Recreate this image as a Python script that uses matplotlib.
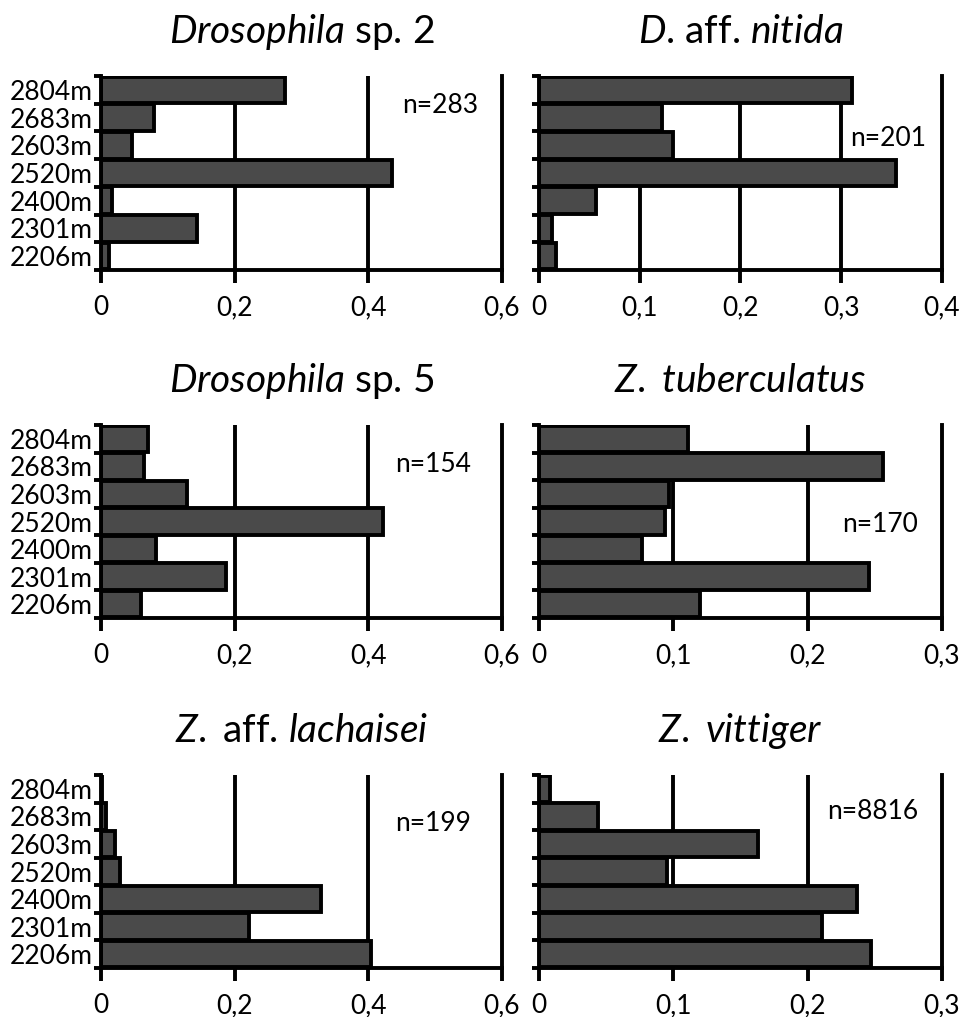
import matplotlib
matplotlib.use("Agg")
import matplotlib.pyplot as plt
import numpy as np

plt.rcParams['font.family'] = ['Lato', 'DejaVu Sans']
plt.rcParams['mathtext.fontset'] = 'custom'
plt.rcParams['mathtext.it'] = 'Lato:italic'
plt.rcParams['mathtext.rm'] = 'Lato'

# ---- data ----
altitudes = ["2206m", "2301m", "2400m", "2520m", "2603m", "2683m", "2804m"]  # bottom -> top

dros_sp2 = [0.012, 0.144, 0.017, 0.435, 0.046, 0.080, 0.276]
d_nitida = [0.017, 0.013, 0.057, 0.354, 0.133, 0.122, 0.311]
dros_sp5 = [0.060, 0.187, 0.083, 0.422, 0.129, 0.065, 0.071]
z_tuberc = [0.120, 0.246, 0.077, 0.094, 0.097, 0.256, 0.111]
z_lachai = [0.404, 0.222, 0.329, 0.028, 0.021, 0.007, 0.002]
z_vittig = [0.247, 0.211, 0.237, 0.095, 0.163, 0.044, 0.008]

titles = [r"$\mathit{Drosophila}$ sp. 2", r"$\mathit{D}$. aff. $\mathit{nitida}$",
          r"$\mathit{Drosophila}$ sp. 5", r"$\mathit{Z.}$ $\mathit{tuberculatus}$",
          r"$\mathit{Z.}$ aff. $\mathit{lachaisei}$", r"$\mathit{Z.}$ $\mathit{vittiger}$"]
n_labels = ["n=283", "n=201", "n=154", "n=170", "n=199", "n=8816"]
ticks_left = [0, 0.2, 0.4, 0.6]
ticklabels_left = ["0", "0,2", "0,4", "0,6"]
ticks_r1 = [0, 0.1, 0.2, 0.3, 0.4]
ticklabels_r1 = ["0", "0,1", "0,2", "0,3", "0,4"]
ticks_r23 = [0, 0.1, 0.2, 0.3]
ticklabels_r23 = ["0", "0,1", "0,2", "0,3"]

series = [dros_sp2, d_nitida, dros_sp5, z_tuberc, z_lachai, z_vittig]
tick_sets = [(ticks_left, ticklabels_left), (ticks_r1, ticklabels_r1),
             (ticks_left, ticklabels_left), (ticks_r23, ticklabels_r23),
             (ticks_left, ticklabels_left), (ticks_r23, ticklabels_r23)]
n_pos = [(0.845, 0.85), (0.866, 0.68), (0.828, 0.793),
         (0.846, 0.482), (0.828, 0.751), (0.829, 0.81)]

W, H = 962, 1017
fig = plt.figure(figsize=(W / 100, H / 100), dpi=100)

col_x = [(101, 502), (539, 942)]
row_y = [(76, 270), (425, 618), (775, 968)]

lw = 2.8
fs = 19
for i, vals in enumerate(series):
    r, c = divmod(i, 2)
    x0, x1 = col_x[c]
    yt, yb = row_y[r]
    ax = fig.add_axes([x0 / W, 1 - yb / H, (x1 - x0) / W, (yb - yt) / H])
    ypos = np.arange(len(altitudes))
    ax.barh(ypos, vals, height=0.96, color="#4a4a4a", edgecolor="black",
            linewidth=lw, zorder=2)
    ticks, tlabels = tick_sets[i]
    ax.set_xlim(0, ticks[-1])
    ax.set_ylim(-0.5, len(altitudes) - 0.5)
    ax.set_xticks(ticks)
    ax.set_xticklabels(tlabels, fontsize=fs)
    for t in ticks[1:-1]:
        ax.axvline(t, color="black", linewidth=lw, zorder=1)
    ax.set_yticks(ypos)
    if c == 0:
        ax.set_yticklabels(altitudes, fontsize=fs)
    else:
        ax.set_yticklabels([])
    ax.set_yticks(np.arange(-0.5, len(altitudes)), minor=True)
    ax.tick_params(axis="y", which="major", length=0, pad=6)
    ax.tick_params(axis="y", which="minor", length=5, width=lw, direction="out")
    ax.tick_params(axis="x", which="major", length=9, width=lw, direction="out", pad=9)
    for s in ["left", "bottom", "right"]:
        ax.spines[s].set_linewidth(lw)
        ax.spines[s].set_zorder(3)
    ax.spines["top"].set_visible(False)
    ax.set_title(titles[i], fontsize=28, pad=24)
    ax.text(n_pos[i][0], n_pos[i][1], n_labels[i], transform=ax.transAxes,
            ha="center", va="center", fontsize=fs)

fig.savefig("out.png", dpi=100, facecolor="white")
